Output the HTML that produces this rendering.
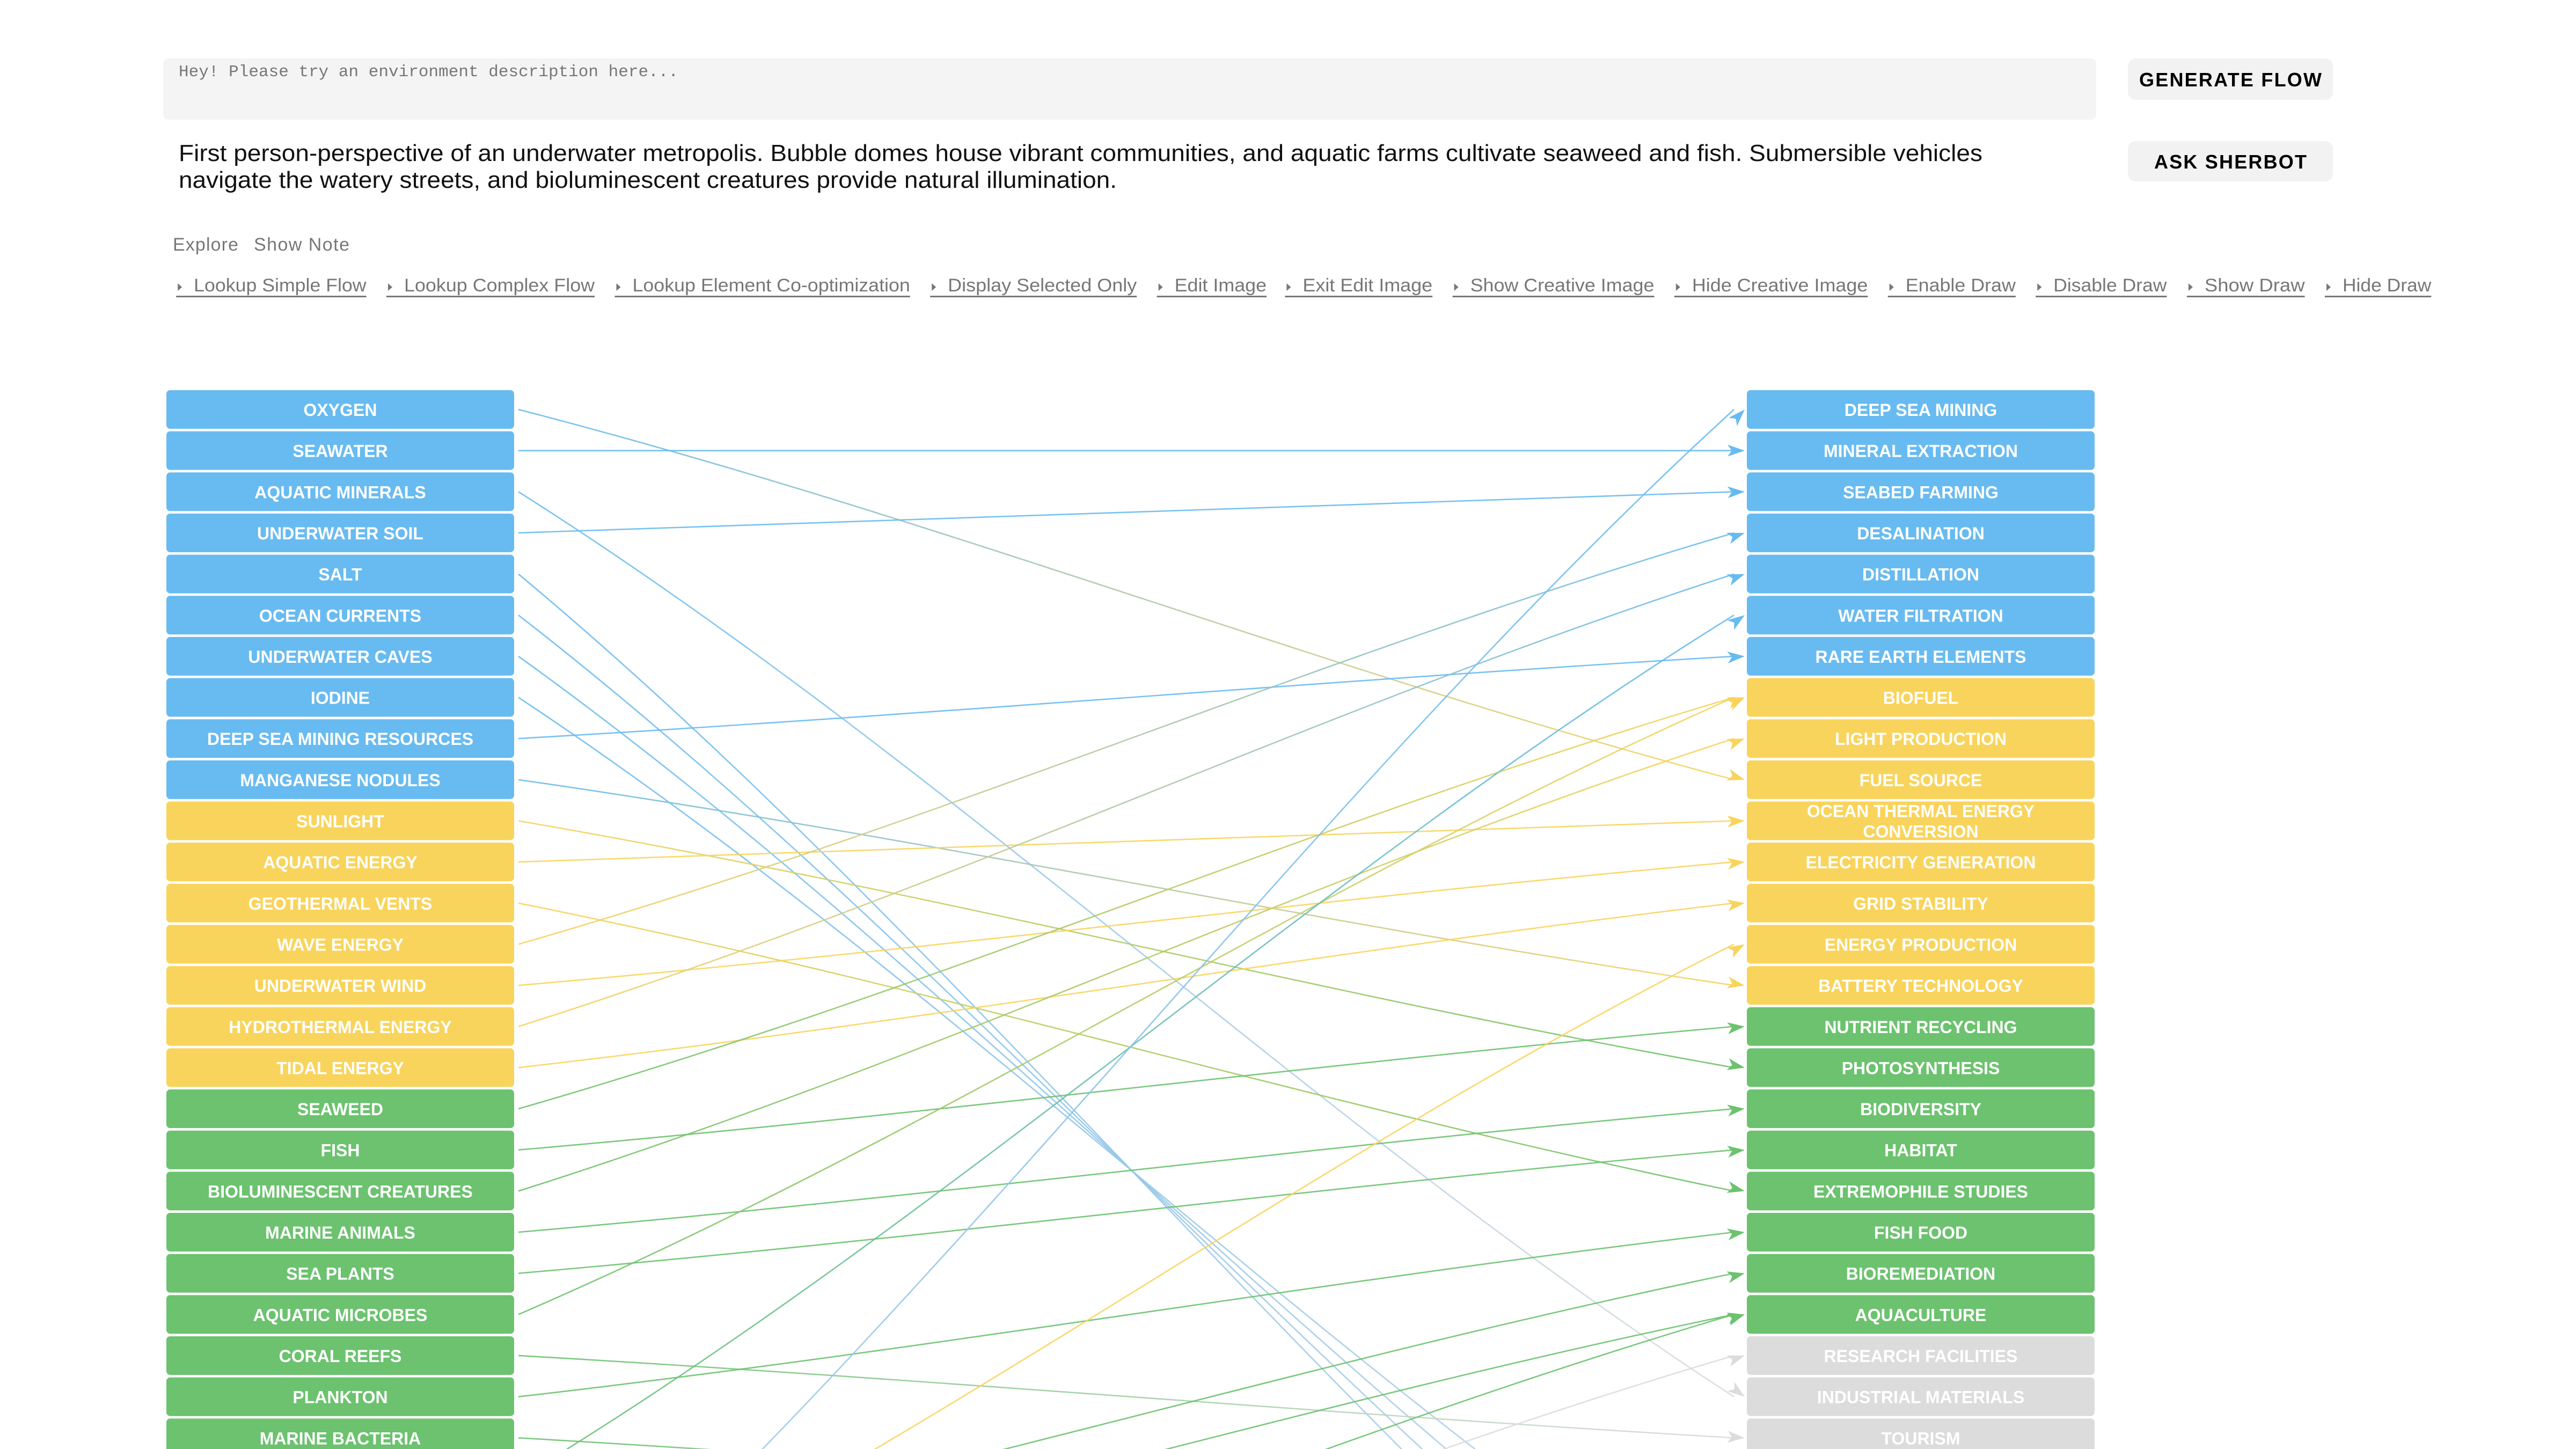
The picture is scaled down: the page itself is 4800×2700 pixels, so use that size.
<!DOCTYPE html>
<html><head><meta charset="utf-8"><style>
html,body{margin:0;padding:0;background:#fff;width:4800px;height:2700px;overflow:hidden;}
svg{display:block;}
</style></head><body>
<svg id="root" width="4800" height="2700" viewBox="0 0 4800 2700" xmlns="http://www.w3.org/2000/svg">
<defs id="defs"></defs>
<rect x="0" y="0" width="4800" height="2700" fill="#fff"/>
<g>
<rect x="304" y="109" width="3602" height="114" rx="10" fill="#f4f4f4"/>
<text x="333" y="142" font-family="Liberation Mono, monospace" font-size="31" fill="#777" textLength="931">Hey! Please try an environment description here...</text>
</g>
<g>
<rect x="3965" y="109" width="382" height="77" rx="14" fill="#f2f2f2"/>
<text x="4156" y="161" text-anchor="middle" font-family="Liberation Sans, sans-serif" font-weight="bold" font-size="36" fill="#000" textLength="340">GENERATE FLOW</text>
</g>
<g>
<rect x="3965" y="263" width="382" height="75" rx="14" fill="#f2f2f2"/>
<text x="4156" y="314" text-anchor="middle" font-family="Liberation Sans, sans-serif" font-weight="bold" font-size="36" fill="#000" textLength="284">ASK SHERBOT</text>
</g>
<g font-family="Liberation Sans, sans-serif" font-size="44" fill="#111">
<text x="333" y="300" textLength="3361" lengthAdjust="spacingAndGlyphs">First person-perspective of an underwater metropolis. Bubble domes house vibrant communities, and aquatic farms cultivate seaweed and fish. Submersible vehicles</text>
<text x="333" y="350" textLength="1748" lengthAdjust="spacingAndGlyphs">navigate the watery streets, and bioluminescent creatures provide natural illumination.</text>
</g>
<g font-family="Liberation Sans, sans-serif" font-size="34" fill="#777">
<text x="322" y="467" textLength="122">Explore</text>
<text x="473" y="467" textLength="178">Show Note</text>
</g>
<g id="links-bar" font-family="Liberation Sans, sans-serif" font-size="34" fill="#777"></g>
<g id="flows"></g>
<g id="nodes"></g>
</svg>
<script>
const sources = ["OXYGEN","SEAWATER","AQUATIC MINERALS","UNDERWATER SOIL","SALT","OCEAN CURRENTS","UNDERWATER CAVES","IODINE","DEEP SEA MINING RESOURCES","MANGANESE NODULES","SUNLIGHT","AQUATIC ENERGY","GEOTHERMAL VENTS","WAVE ENERGY","UNDERWATER WIND","HYDROTHERMAL ENERGY","TIDAL ENERGY","SEAWEED","FISH","BIOLUMINESCENT CREATURES","MARINE ANIMALS","SEA PLANTS","AQUATIC MICROBES","CORAL REEFS","PLANKTON","MARINE BACTERIA"];
const sourceCats = ["b","b","b","b","b","b","b","b","b","b","y","y","y","y","y","y","y","g","g","g","g","g","g","g","g","g"];
const targets = ["DEEP SEA MINING","MINERAL EXTRACTION","SEABED FARMING","DESALINATION","DISTILLATION","WATER FILTRATION","RARE EARTH ELEMENTS","BIOFUEL","LIGHT PRODUCTION","FUEL SOURCE","OCEAN THERMAL ENERGY|CONVERSION","ELECTRICITY GENERATION","GRID STABILITY","ENERGY PRODUCTION","BATTERY TECHNOLOGY","NUTRIENT RECYCLING","PHOTOSYNTHESIS","BIODIVERSITY","HABITAT","EXTREMOPHILE STUDIES","FISH FOOD","BIOREMEDIATION","AQUACULTURE","RESEARCH FACILITIES","INDUSTRIAL MATERIALS","TOURISM"];
const targetCats = ["b","b","b","b","b","b","b","y","y","y","y","y","y","y","y","g","g","g","g","g","g","g","g","x","x","x"];
const offSourceRows = [26,28,29,30,31,32,33];
const offSourceCats = ["g","g","g","y","l","g","x"];
const linkSources = [0,1,2,3,4,5,6,7,8,9,10,11,12,13,14,15,16,17,18,19,20,21,22,23,24,25,26,28,29,32,30,31,33];
const linkTargets = [9,1,24,2,33,32,31,30,6,14,16,10,19,3,11,4,12,7,15,8,17,18,7,25,20,27,5,21,22,22,13,0,23];
const actionLinks = ["Lookup Simple Flow","Lookup Complex Flow","Lookup Element Co-optimization","Display Selected Only","Edit Image","Exit Edit Image","Show Creative Image","Hide Creative Image","Enable Draw","Disable Draw","Show Draw","Hide Draw"];
const actionStarts = [118,246,385,577,715,793,895,1030,1160,1250,1342,1426];
const actionEnds = [223,362,554,692,771,872,1007,1137,1227,1319,1403,1480];

const NS="http://www.w3.org/2000/svg";
const COLORS={b:"#68bbf0",y:"#f9d45c",g:"#6cc26f",x:"#dcdcdc",l:"#a9cce6"};
const OFF_TARGET="#c3d4e2";
const LEFT_X=310, RIGHT_X=3255, BOX_W=648, BOX_H=72, TOP=727, PITCH=76.65;
const LINE_X0=966, TIP_X=3251;
function rowY(i){return TOP+PITCH*i+BOX_H/2;}
function mk(tag,attrs,parent){const e=document.createElementNS(NS,tag);for(const k in attrs)e.setAttribute(k,attrs[k]);parent.appendChild(e);return e;}
function srcColor(i){if(i<sources.length)return COLORS[sourceCats[i]];const k=offSourceRows.indexOf(i);return k>=0?COLORS[offSourceCats[k]]:OFF_TARGET;}
function tgtColor(i){return i<targets.length?COLORS[targetCats[i]]:OFF_TARGET;}

const bar=document.getElementById('links-bar');
const S=3.061;
actionLinks.forEach((t,i)=>{
  const x0=actionStarts[i]*S, x1=actionEnds[i]*S;
  const g=mk('g',{},bar);
  
  
  const tri=mk('path',{d:`M${x0-30} ${528}L${x0-30} ${542}L${x0-22} ${535}Z`,fill:"#777"},g);
  
  
  const tx=mk('text',{x:x0,y:543,textLength:(x1-x0),lengthAdjust:"spacingAndGlyphs"},g);
  tx.textContent=t;
  
  
  const ul=mk('rect',{x:x0-33,y:551,width:(x1-x0+33),height:3,fill:"#777"},g);
  
  
});

const defs=document.getElementById('defs');
const flows=document.getElementById('flows');
linkSources.forEach((s,i)=>{
  const t=linkTargets[i];
  const ys=rowY(s), yt=rowY(t);
  const gid='gr'+i;
  const gr=mk('linearGradient',{id:gid,gradientUnits:"userSpaceOnUse",x1:LINE_X0,y1:ys,x2:TIP_X,y2:yt},defs);
  mk('stop',{offset:"0",'stop-color':srcColor(s)},gr);
  mk('stop',{offset:"1",'stop-color':tgtColor(t)},gr);
  const dx=TIP_X-LINE_X0;
  const endX=t<targets.length?TIP_X-20:TIP_X;
  const p=mk('path',{d:`M${LINE_X0} ${ys} C${LINE_X0+dx*0.35} ${ys+(yt-ys)*0.3} ${LINE_X0+dx*0.65} ${ys+(yt-ys)*0.7} ${endX} ${yt}`,fill:"none",stroke:`url(#${gid})`,'stroke-width':2.6,'stroke-opacity':0.9},flows);
  
  
  if(t<targets.length){
    const ang=Math.atan2(yt-ys,dx);
    const L=32,Wd=11;
    const bx=TIP_X-L*Math.cos(ang), by=yt-L*Math.sin(ang);
    const px=-Math.sin(ang)*Wd, py=Math.cos(ang)*Wd;
    const a=mk('path',{d:`M${TIP_X} ${yt}L${bx+px} ${by+py}L${bx+L*0.25*Math.cos(ang)} ${by+L*0.25*Math.sin(ang)}L${bx-px} ${by-py}Z`,fill:tgtColor(t)},flows);
    
    
  }
});

const nodes=document.getElementById('nodes');
function drawNode(x,i,label,cat,side){
  const y=TOP+PITCH*i;
  const g=mk('g',{},nodes);
  
  
  const r=mk('rect',{x:x,y:y,width:BOX_W,height:BOX_H,rx:7,fill:COLORS[cat]},g);
  
  
  const parts=label.split('|');
  parts.forEach((p,k)=>{
    const cy=parts.length===1?y+BOX_H/2+12:y+BOX_H/2+12+(k===0?-19:19);
    const tx=mk('text',{x:x+BOX_W/2,y:cy,'text-anchor':"middle",'font-family':"Liberation Sans, sans-serif",'font-weight':"bold",'font-size':"32",fill:"#fff"},g);
    tx.textContent=p;
    
    
  });
}
sources.forEach((s,i)=>drawNode(LEFT_X,i,s,sourceCats[i],'source'));
targets.forEach((s,i)=>drawNode(RIGHT_X,i,s,targetCats[i],'target'));
</script>
</body></html>
